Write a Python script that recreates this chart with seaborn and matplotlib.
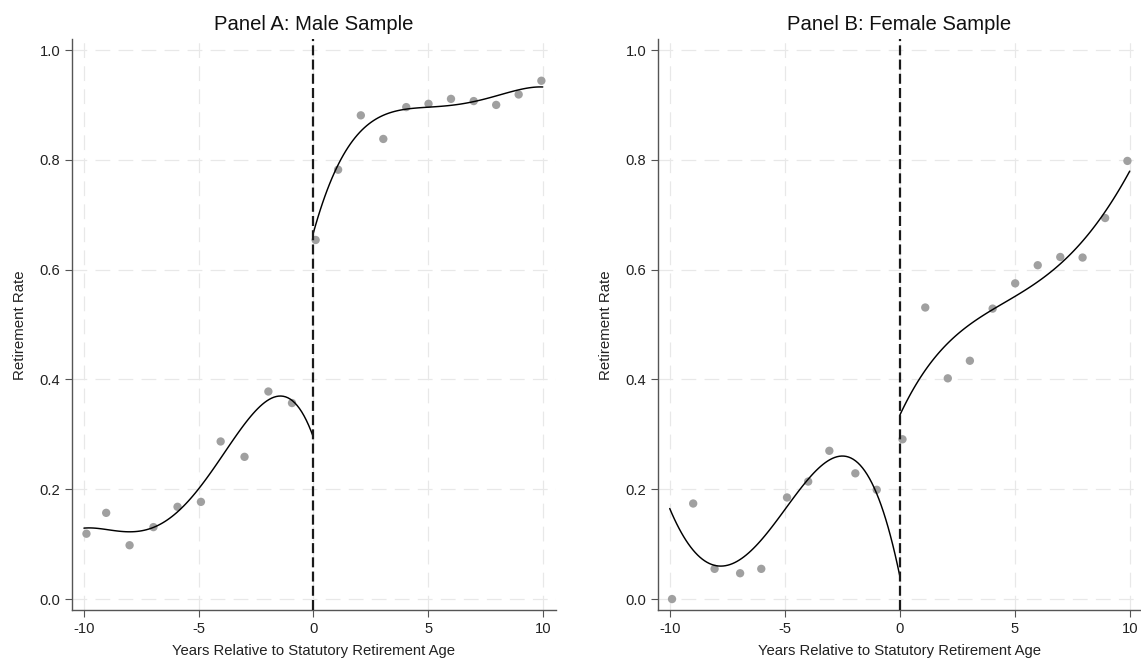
import matplotlib
matplotlib.use("Agg")
import matplotlib.pyplot as plt
import seaborn as sns
import numpy as np

# ---------------- data ----------------
male_x = [-9.89, -9.03, -8.01, -6.97, -5.92, -4.90, -4.04, -3.00, -1.96, -0.93,
          0.10, 1.08, 2.07, 3.05, 4.05, 5.02, 6.00, 6.99, 7.97, 8.95, 9.94]
male_y = [0.119, 0.157, 0.098, 0.131, 0.168, 0.177, 0.287, 0.259, 0.378, 0.357,
          0.654, 0.782, 0.881, 0.838, 0.896, 0.902, 0.911, 0.907, 0.900, 0.919, 0.944]

female_x = [-9.90, -8.98, -8.05, -6.94, -6.02, -4.90, -3.98, -3.06, -1.93, -1.00,
            0.12, 1.11, 2.09, 3.05, 4.04, 5.02, 6.00, 6.98, 7.95, 8.93, 9.90]
female_y = [0.000, 0.174, 0.055, 0.047, 0.055, 0.185, 0.214, 0.270, 0.229, 0.199,
            0.291, 0.531, 0.402, 0.434, 0.529, 0.575, 0.608, 0.623, 0.622, 0.694, 0.798]

# fitted curves
male_fit_left_x = [-10.0, -9.52, -8.72, -7.78, -6.98, -6.25, -5.67, -5.0, -4.36,
                   -3.78, -3.05, -2.33, -1.45, -0.94, -0.58, 0.0]
male_fit_left_y = [0.127, 0.130, 0.1275, 0.125, 0.131, 0.144, 0.162, 0.199, 0.241,
                   0.277, 0.320, 0.350, 0.366, 0.359, 0.345, 0.298]
male_fit_right_x = [0.0, 0.37, 0.80, 1.38, 1.96, 2.55, 3.13, 4.0, 5.0, 6.03, 6.91,
                    7.78, 8.36, 9.01, 10.0]
male_fit_right_y = [0.663, 0.721, 0.769, 0.812, 0.845, 0.869, 0.883, 0.8925, 0.8955,
                    0.900, 0.906, 0.914, 0.920, 0.928, 0.933]

female_fit_left_x = [-10.0, -9.63, -9.19, -8.61, -7.74, -7.02, -6.29, -5.57, -4.84,
                     -4.12, -3.39, -2.6, -1.8, -1.0, -0.57, -0.21, 0.0]
female_fit_left_y = [0.164, 0.132, 0.101, 0.074, 0.061, 0.068, 0.092, 0.132, 0.174,
                     0.214, 0.244, 0.257, 0.243, 0.193, 0.144, 0.089, 0.035]
female_fit_right_x = [0.0, 0.59, 1.42, 2.1, 2.97, 4.03, 5.0, 6.0, 7.0, 7.72, 8.3,
                      8.85, 9.43, 10.0]
female_fit_right_y = [0.332, 0.387, 0.433, 0.466, 0.496, 0.528, 0.551, 0.578, 0.611,
                      0.642, 0.672, 0.696, 0.739, 0.780]

titles = ["Panel A: Male Sample", "Panel B: Female Sample"]
x_label = "Years Relative to Statutory Retirement Age"
y_label = "Retirement Rate"
x_ticks = [-10, -5, 0, 5, 10]
x_tick_labels = ["-10", "-5", "0", "5", "10"]
y_ticks = [0.0, 0.2, 0.4, 0.6, 0.8, 1.0]
y_tick_labels = ["0.0", "0.2", "0.4", "0.6", "0.8", "1.0"]
cutoff = 0

# ---------------- style ----------------
sns.set_theme(style="white")
plt.rcParams["font.family"] = ["Liberation Sans", "DejaVu Sans"]
plt.rcParams["axes.unicode_minus"] = False

fig = plt.figure(figsize=(11.41, 6.62), dpi=100)
W, H = 1141, 662
ax_a = fig.add_axes([72 / W, (H - 610.3) / H, 483.6 / W, 571 / H])
ax_b = fig.add_axes([658 / W, (H - 610.3) / H, 483 / W, 571 / H])

panels = [
    (ax_a, male_x, male_y,
     [(male_fit_left_x, male_fit_left_y), (male_fit_right_x, male_fit_right_y)],
     (-10.52, 10.56)),
    (ax_b, female_x, female_y,
     [(female_fit_left_x, female_fit_left_y), (female_fit_right_x, female_fit_right_y)],
     (-10.51, 10.49)),
]

spine_col = "#555555"
for (ax, sx, sy, fits, xl), title in zip(panels, titles):
    ax.set_xlim(*xl)
    ax.set_ylim(-0.0205, 1.0195)
    ax.set_xticks(x_ticks)
    ax.set_xticklabels(x_tick_labels)
    ax.set_yticks(y_ticks)
    ax.set_yticklabels(y_tick_labels)
    ax.grid(True, color="#e8e8e8", linestyle=(0, (12.5, 7)), linewidth=0.85, zorder=0)
    ax.set_axisbelow(True)

    sns.scatterplot(x=sx, y=sy, ax=ax, color="#a0a0a0", s=36, edgecolor="none",
                    linewidth=0, zorder=3)
    for fx, fy in fits:
        sns.regplot(x=np.array(fx), y=np.array(fy), ax=ax, order=4, scatter=False,
                    ci=None, truncate=True,
                    line_kws=dict(color="black", linewidth=1.05, zorder=4))
    ax.axvline(cutoff, color="#1a1a1a", linewidth=1.6, linestyle=(0, (4.5, 1.9)),
               zorder=5)

    ax.set_title(title, fontsize=14.6, color="#111111", pad=7)
    ax.set_xlabel(x_label, fontsize=10.7, color="#222222", labelpad=6)
    ax.set_ylabel(y_label, fontsize=10.8, color="#222222", labelpad=9)

    for side in ["top", "right"]:
        ax.spines[side].set_visible(False)
    for side in ["left", "bottom"]:
        ax.spines[side].set_color(spine_col)
        ax.spines[side].set_linewidth(1.0)
    ax.tick_params(axis="both", which="major", direction="out", length=4.8,
                   width=0.8, color=spine_col, labelsize=10.6, labelcolor="#222222",
                   pad=3.5, bottom=True, left=True)

fig.savefig("out.png", dpi=100)
